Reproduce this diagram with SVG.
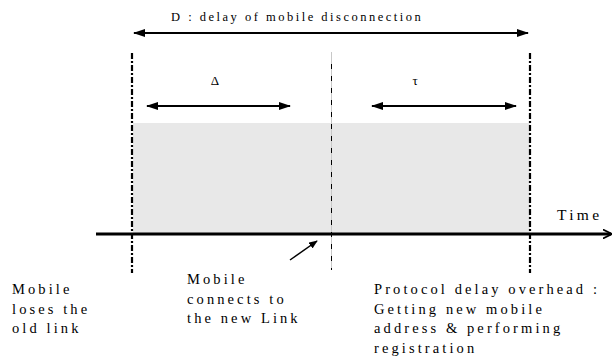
<svg xmlns="http://www.w3.org/2000/svg" width="614" height="359" viewBox="0 0 614 359">
  <style>
    text { font-family: "Liberation Serif", "Times New Roman", serif; fill: #000; }
    .lbl { font-size: 14.5px; letter-spacing: 3.1px; }
    .title { font-size: 12.5px; letter-spacing: 2.5px; }
    .axis { font-size: 15.5px; letter-spacing: 3.3px; }
    .sym { font-size: 13px; }
    .span { stroke: #000; stroke-width: 2; fill: none; }
    .bound { stroke: #000; stroke-width: 2.2; stroke-dasharray: 6 2 2 2; fill: none; }
    .mid-base { stroke: #c8c8c8; stroke-width: 1; fill: none; }
    .mid { stroke: #000; stroke-width: 1; stroke-dasharray: 5 7; fill: none; }
  </style>
  <defs>
    <marker id="head" viewBox="0 0 12 8" refX="11" refY="4" markerWidth="12" markerHeight="8" markerUnits="userSpaceOnUse" orient="auto-start-reverse">
      <path d="M0,0 L12,4 L0,8 Z" fill="#000"/>
    </marker>
    <marker id="timehead" viewBox="0 0 10 10" refX="9" refY="5" markerWidth="9" markerHeight="10" markerUnits="userSpaceOnUse" orient="auto">
      <path d="M0,0 L10,5 L0,10" fill="none" stroke="#000" stroke-width="2"/>
    </marker>
    <marker id="small" viewBox="0 0 10 8" refX="9" refY="4" markerWidth="9" markerHeight="7" markerUnits="userSpaceOnUse" orient="auto">
      <path d="M0,0 L10,4 L0,8 Z" fill="#000"/>
    </marker>
  </defs>

  <!-- disconnection interval shading -->
  <g id="interval">
    <rect x="133" y="123" width="397" height="111" fill="#e8e8e8"/>
  </g>

  <g id="connectors">
    <!-- overall delay D -->
    <line class="span" x1="134" y1="33" x2="528" y2="33" marker-start="url(#head)" marker-end="url(#head)"/>
    <!-- Δ and τ spans -->
    <line class="span" x1="147" y1="106" x2="290" y2="106" marker-start="url(#head)" marker-end="url(#head)"/>
    <line class="span" x1="372" y1="106" x2="516" y2="106" marker-start="url(#head)" marker-end="url(#head)"/>
    <!-- time axis -->
    <line x1="96" y1="234" x2="611" y2="234" stroke="#000" stroke-width="3" marker-end="url(#timehead)"/>
    <!-- event boundaries -->
    <line class="bound" x1="132" y1="53" x2="132" y2="273"/>
    <line class="bound" x1="530" y1="53" x2="530" y2="273"/>
    <line class="mid-base" x1="331.5" y1="52" x2="331.5" y2="270"/>
    <line class="mid" x1="331.5" y1="64" x2="331.5" y2="270"/>
    <!-- pointer to link connection -->
    <line x1="290" y1="260" x2="317" y2="241" stroke="#000" stroke-width="1.5" marker-end="url(#small)"/>
  </g>

  <g id="label-D">
    <text class="title" x="171" y="21">D : delay of mobile disconnection</text>
  </g>
  <g id="label-delta">
    <text class="sym" x="215" y="85" text-anchor="middle">Δ</text>
  </g>
  <g id="label-tau">
    <text class="sym" x="415" y="85" text-anchor="middle">τ</text>
  </g>
  <g id="label-time">
    <text class="axis" x="557" y="220">Time</text>
  </g>
  <g id="event-lose">
    <text class="lbl" x="12" y="294">Mobile</text>
    <text class="lbl" x="12" y="313.5">loses the</text>
    <text class="lbl" x="12" y="333">old link</text>
  </g>
  <g id="event-connect">
    <text class="lbl" x="187" y="284">Mobile</text>
    <text class="lbl" x="187" y="303.5">connects to</text>
    <text class="lbl" x="187" y="323">the new Link</text>
  </g>
  <g id="event-overhead">
    <text class="lbl" x="374" y="294">Protocol delay overhead :</text>
    <text class="lbl" x="374" y="313.5">Getting new mobile</text>
    <text class="lbl" x="374" y="333">address &amp; performing</text>
    <text class="lbl" x="374" y="352.5">registration</text>
  </g>
</svg>
